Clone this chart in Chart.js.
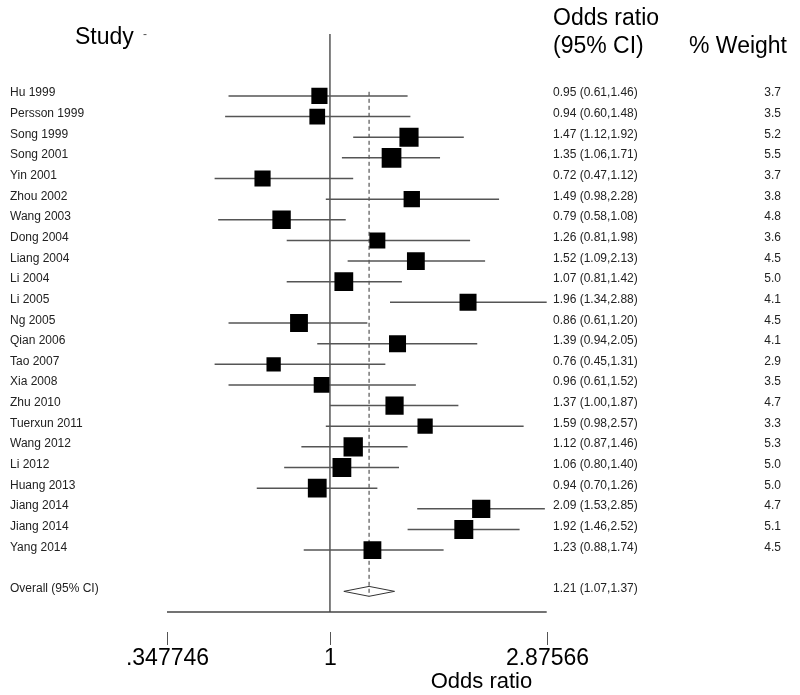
<!DOCTYPE html>
<html>
<head>
<meta charset="utf-8">
<script src="https://cdn.jsdelivr.net/npm/chart.js@4"></script>
<style>
  html, body { margin: 0; padding: 0; background: #ffffff; }
  #wrap { width: 800px; height: 695px; }
</style>
</head>
<body>
<div id="wrap"><canvas id="c" width="800" height="695"></canvas></div>
<script>
// ---- data ----
const studies = ['Hu 1999','Persson 1999','Song 1999','Song 2001','Yin 2001','Zhou 2002','Wang 2003',
  'Dong 2004','Liang 2004','Li 2004','Li 2005','Ng 2005','Qian 2006','Tao 2007','Xia 2008','Zhu 2010',
  'Tuerxun 2011','Wang 2012','Li 2012','Huang 2013','Jiang 2014','Jiang 2014','Yang 2014'];
const oddsRatios = [0.95,0.94,1.47,1.35,0.72,1.49,0.79,1.26,1.52,1.07,1.96,0.86,1.39,0.76,0.96,1.37,1.59,1.12,1.06,0.94,2.09,1.92,1.23];
const ciLower    = [0.61,0.60,1.12,1.06,0.47,0.98,0.58,0.81,1.09,0.81,1.34,0.61,0.94,0.45,0.61,1.00,0.98,0.87,0.80,0.70,1.53,1.46,0.88];
const ciUpper    = [1.46,1.48,1.92,1.71,1.12,2.28,1.08,1.98,2.13,1.42,2.88,1.20,2.05,1.31,1.52,1.87,2.57,1.46,1.40,1.26,2.85,2.52,1.74];
const weights    = [3.7,3.5,5.2,5.5,3.7,3.8,4.8,3.6,4.5,5.0,4.1,4.5,4.1,2.9,3.5,4.7,3.3,5.3,5.0,5.0,4.7,5.1,4.5];
const overallLabel = 'Overall (95% CI)';
const overallOR = 1.21, overallLower = 1.07, overallUpper = 1.37;
const tickLabels = ['.347746', '1', '2.87566'];
const axisMin = 0.452, axisMax = 2.87566;   // ends of the drawn axis line
const whiskerClipLow = 0.57;                 // whiskers are cut here in the reference
const axisTitle = 'Odds ratio';

// ---- derived plotting structures ----
const overallRow = studies.length + 1;
const ciData = [];
studies.forEach((s, i) => {
  ciData.push({x: Math.max(ciLower[i], whiskerClipLow), y: i});
  ciData.push({x: ciUpper[i], y: i});
  ciData.push({x: NaN, y: NaN});
});
const pointData = oddsRatios.map((v, i) => ({x: v, y: i}));
const pointRadii = weights.map(w => 8.4 * Math.sqrt(w) / (2 * Math.SQRT1_2));
const dh = 0.24;
const diamondData = [
  {x: overallLower, y: overallRow}, {x: overallOR, y: overallRow - dh},
  {x: overallUpper, y: overallRow}, {x: overallOR, y: overallRow + dh},
  {x: overallLower, y: overallRow}
];
const tickValues = [axisMin, 1, axisMax];
const fmt2 = v => v.toFixed(2);

const FONT = '"Liberation Sans", Arial, sans-serif';

const forestText = {
  id: 'forestText',
  afterDraw(chart) {
    const {ctx, chartArea, scales: {x, y}} = chart;
    ctx.save();
    // axis line
    ctx.strokeStyle = '#444';
    ctx.lineWidth = 1.5;
    ctx.beginPath();
    ctx.moveTo(x.getPixelForValue(axisMin), chartArea.bottom);
    ctx.lineTo(x.getPixelForValue(axisMax), chartArea.bottom);
    ctx.stroke();
    // ticks + labels
    ctx.lineWidth = 1;
    ctx.strokeStyle = '#555';
    ctx.fillStyle = '#000';
    ctx.font = '23px ' + FONT;
    ctx.textAlign = 'center';
    ctx.textBaseline = 'alphabetic';
    tickValues.forEach((v, i) => {
      const px = Math.round(x.getPixelForValue(v)) + 0.5;
      ctx.beginPath();
      ctx.moveTo(px, chartArea.bottom + 20);
      ctx.lineTo(px, chartArea.bottom + 33);
      ctx.stroke();
      ctx.fillText(tickLabels[i], px, chartArea.bottom + 53);
    });
    ctx.font = '22px ' + FONT;
    ctx.fillText(axisTitle, 481.5, chartArea.bottom + 76);

    // headers
    ctx.textAlign = 'left';
    ctx.font = '23px ' + FONT;
    ctx.fillText('Study', 75, 44);
    ctx.fillText('Odds ratio', 553, 25);
    ctx.fillText('(95% CI)', 553, 53);
    ctx.textAlign = 'right';
    ctx.fillText('% Weight', 787, 53);
    ctx.textAlign = 'left';
    ctx.font = '12px ' + FONT;
    ctx.fillStyle = '#555';
    ctx.fillText('-', 143, 38);

    // rows
    ctx.fillStyle = '#222';
    ctx.font = '12px ' + FONT;
    studies.forEach((s, i) => {
      const py = y.getPixelForValue(i) + 0.5;
      ctx.textAlign = 'left';
      ctx.fillText(s, 10, py);
      ctx.fillText(`${fmt2(oddsRatios[i])} (${fmt2(ciLower[i])},${fmt2(ciUpper[i])})`, 553, py);
      ctx.textAlign = 'right';
      ctx.fillText(weights[i].toFixed(1), 781, py);
    });
    const oy = y.getPixelForValue(overallRow) + 0.5;
    ctx.textAlign = 'left';
    ctx.fillText(overallLabel, 10, oy);
    ctx.fillText(`${fmt2(overallOR)} (${fmt2(overallLower)},${fmt2(overallUpper)})`, 553, oy);
    ctx.restore();
  }
};

new Chart(document.getElementById('c'), {
  type: 'scatter',
  data: {
    datasets: [
      { // squares
        data: pointData, pointStyle: 'rect', pointRadius: pointRadii,
        backgroundColor: '#000', borderWidth: 0, order: 0
      },
      { // diamond
        data: diamondData, showLine: true, borderColor: '#333', borderWidth: 1,
        pointRadius: 0, fill: false, order: 1
      },
      { // CI whiskers
        data: ciData, showLine: true, spanGaps: false, borderColor: '#555', borderWidth: 1.5,
        pointRadius: 0, order: 2
      },
      { // overall dashed line
        data: [{x: overallOR, y: -0.2}, {x: overallOR, y: overallRow + dh}], showLine: true,
        borderColor: '#333', borderWidth: 1, borderDash: [4, 3], pointRadius: 0, order: 3
      },
      { // null line at 1
        data: [{x: 1, y: -3}, {x: 1, y: overallRow + 1}], showLine: true,
        borderColor: '#555', borderWidth: 1.5, pointRadius: 0, order: 4
      }
    ]
  },
  options: {
    responsive: false,
    devicePixelRatio: 1,
    animation: false,
    events: [],
    layout: { padding: { left: 167, right: 800 - 546.7, top: 34, bottom: 695 - 612 } },
    plugins: { legend: { display: false }, tooltip: { enabled: false } },
    elements: { line: { tension: 0 } },
    scales: {
      x: { type: 'logarithmic', min: axisMin, max: axisMax, display: false },
      y: { type: 'linear', min: -3, max: overallRow + 1, reverse: true, display: false }
    }
  },
  plugins: [forestText]
});
</script>
</body>
</html>
